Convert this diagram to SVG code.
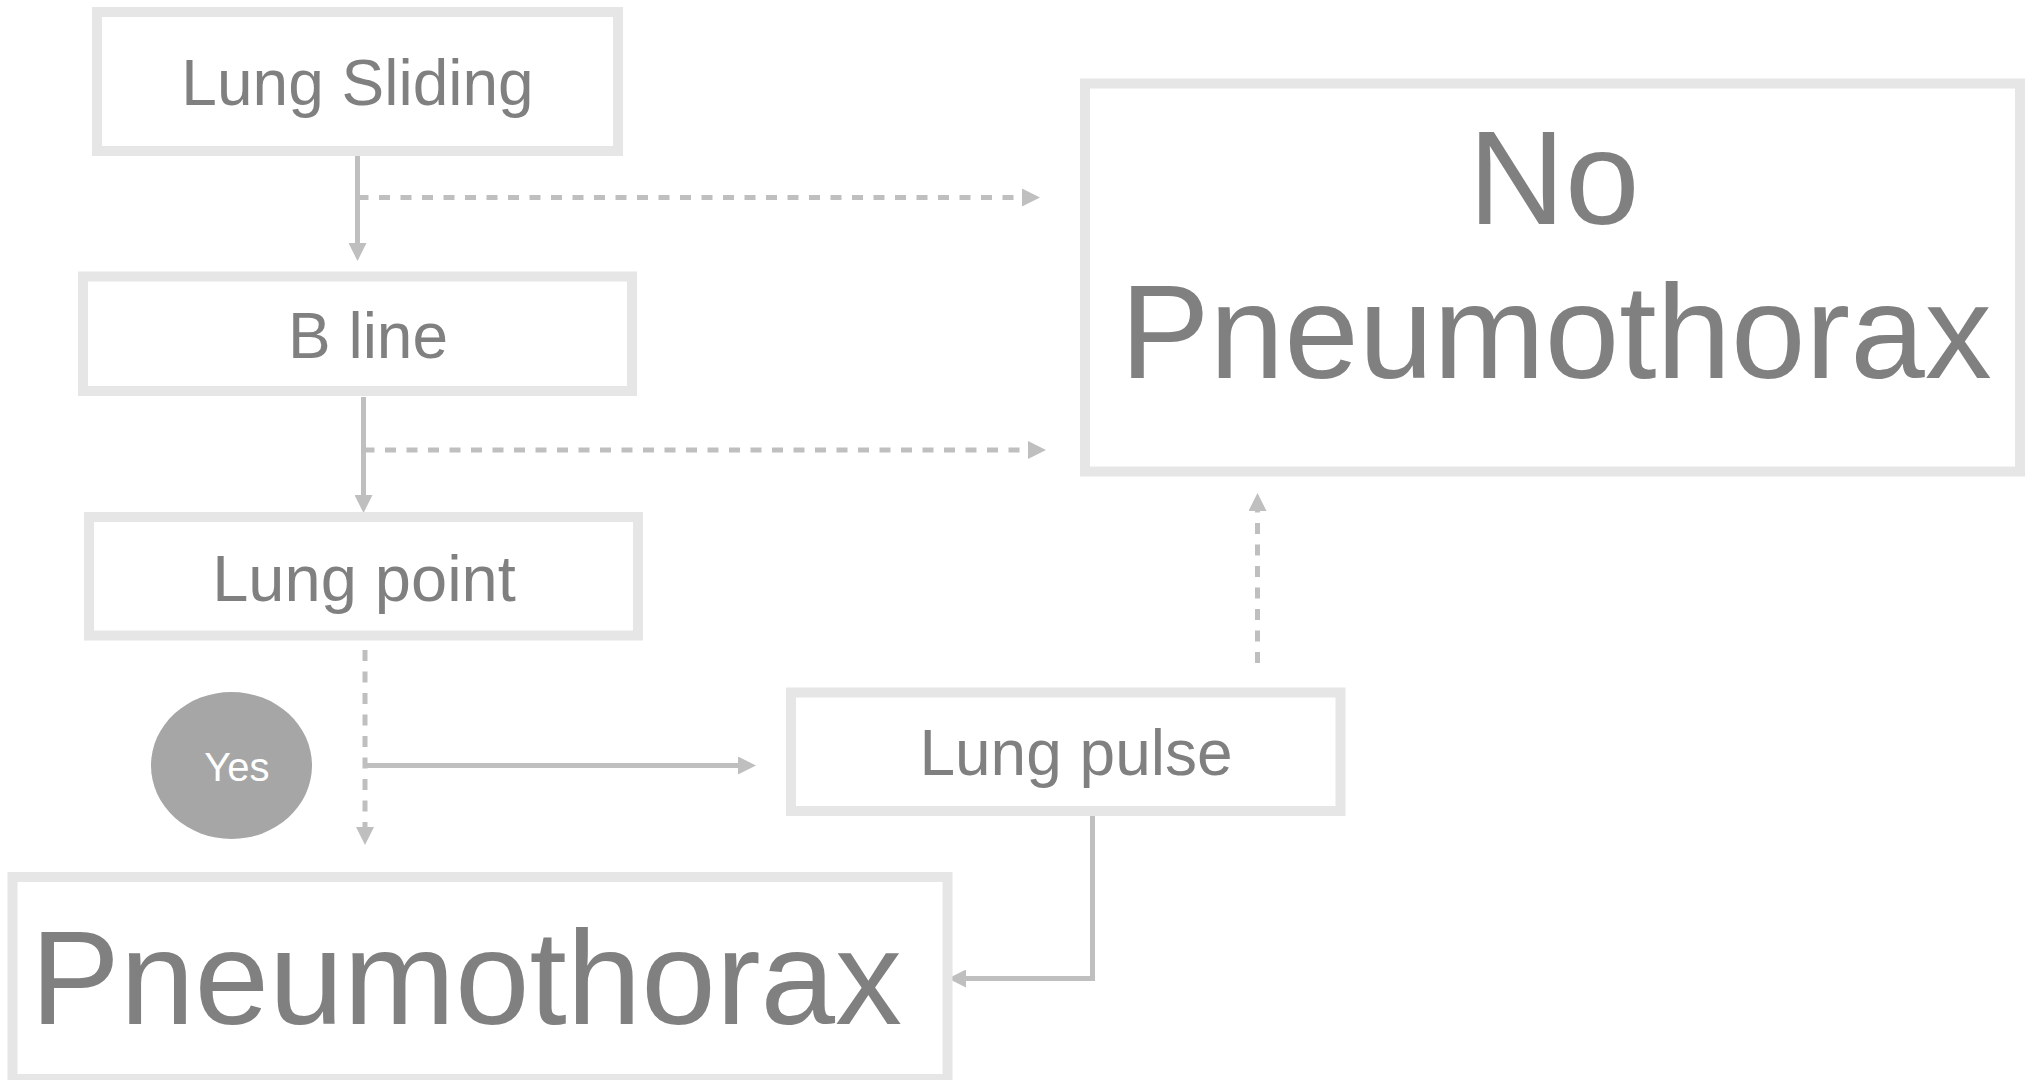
<svg xmlns="http://www.w3.org/2000/svg" width="2028" height="1080" viewBox="0 0 2028 1080">
<style>
.box{fill:#ffffff;stroke:#e6e6e6;stroke-width:10}
.t{font-family:"Liberation Sans",Arial,sans-serif;fill:#808080}
.c{fill:none;stroke:#bfbfbf;stroke-width:5}
.d{stroke-dasharray:11 10.5}
</style>
<defs>
<marker id="ah" markerUnits="userSpaceOnUse" markerWidth="18" markerHeight="18" refX="0" refY="9" orient="auto" viewBox="0 0 18 18">
<path d="M0,0 L18,9 L0,18 Z" fill="#bfbfbf"/>
</marker>
</defs>
<rect width="2028" height="1080" fill="#ffffff"/>
<g id="connectors">
<path class="c" d="M357.5,150 V243" marker-end="url(#ah)"/>
<path class="c d" d="M357.5,197.5 H1022" marker-end="url(#ah)"/>
<path class="c" d="M363.5,397 V495" marker-end="url(#ah)"/>
<path class="c d" d="M363.5,450 H1028" marker-end="url(#ah)"/>
<path class="c d" d="M365,650 V827" marker-end="url(#ah)"/>
<path class="c" d="M365,765.5 H738" marker-end="url(#ah)"/>
<path class="c" d="M1092.5,810 V978.5 H966" marker-end="url(#ah)"/>
<path class="c d" d="M1257.5,663 V511" marker-end="url(#ah)"/>
</g>
<g id="lung-sliding">
<rect class="box" x="97" y="12" width="521" height="139"/>
<text class="t" x="357.5" y="104.5" font-size="64" text-anchor="middle">Lung Sliding</text>
</g>
<g id="b-line">
<rect class="box" x="83" y="276.5" width="549" height="114.5"/>
<text class="t" x="368" y="357.5" font-size="64" text-anchor="middle">B line</text>
</g>
<g id="lung-point">
<rect class="box" x="89" y="517" width="549" height="118.5"/>
<text class="t" x="364" y="601" font-size="65" text-anchor="middle">Lung point</text>
</g>
<g id="yes">
<ellipse cx="231.5" cy="765.5" rx="80.5" ry="73.5" fill="#a6a6a6"/>
<text x="237" y="780.5" font-size="40" text-anchor="middle" font-family="Liberation Sans, Arial, sans-serif" fill="#ffffff">Yes</text>
</g>
<g id="lung-pulse">
<rect class="box" x="791" y="692.5" width="549.5" height="118.5"/>
<text class="t" x="1076" y="774.5" font-size="64" text-anchor="middle">Lung pulse</text>
</g>
<g id="pneumothorax">
<rect class="box" x="12.5" y="877" width="935" height="202"/>
<text class="t" x="30.5" y="1024" font-size="134">Pneumothorax</text>
</g>
<g id="no-pneumothorax">
<rect class="box" x="1085" y="83.5" width="935" height="388"/>
<text class="t" x="1554" y="224" font-size="134" text-anchor="middle">No</text>
<text class="t" x="1556" y="378" font-size="134" text-anchor="middle">Pneumothorax</text>
</g>
</svg>
